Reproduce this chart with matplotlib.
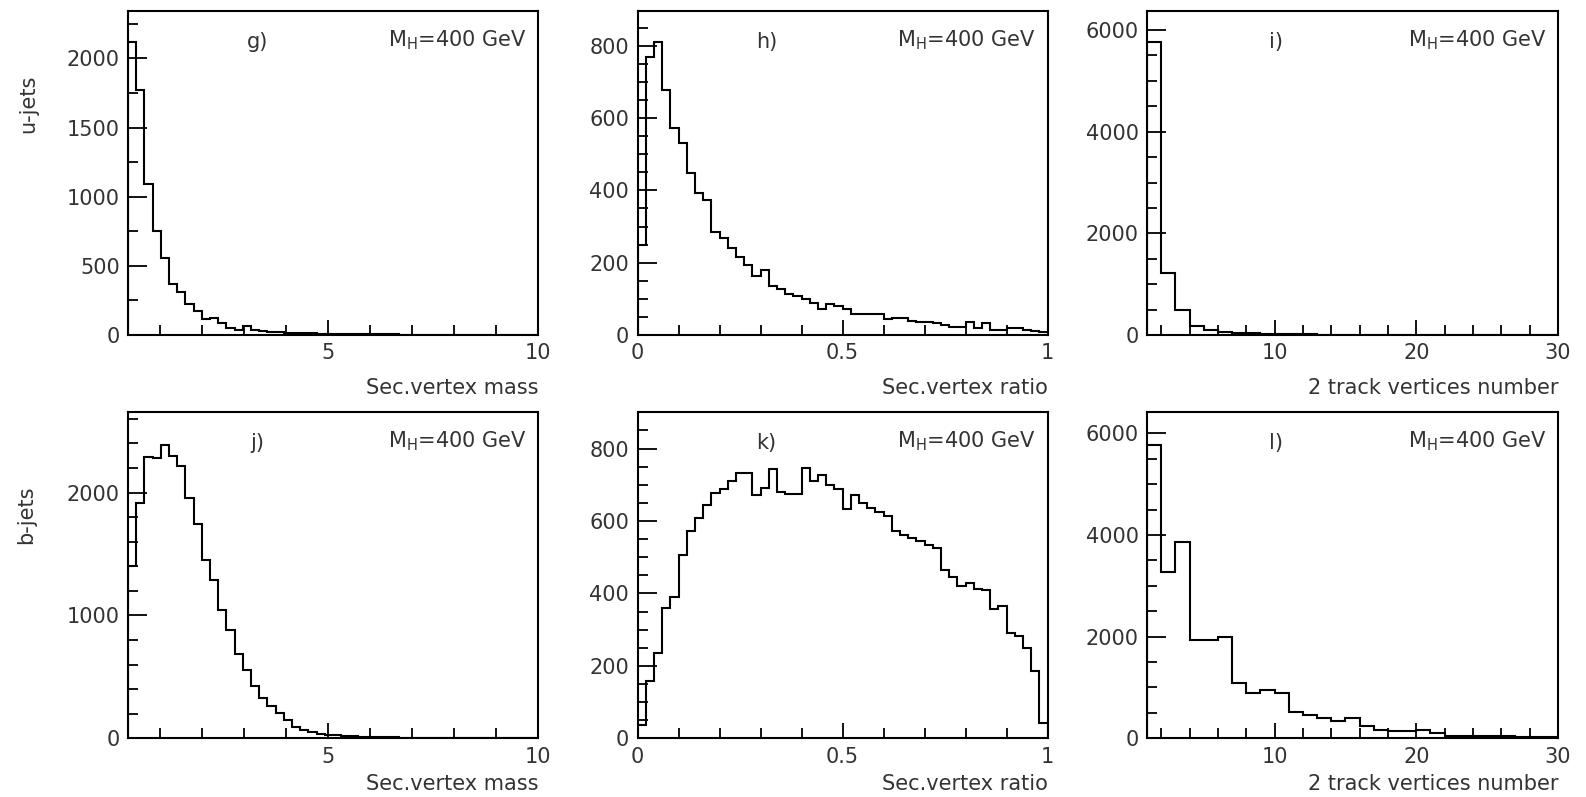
import numpy as np
import matplotlib
matplotlib.use("Agg")
from matplotlib import pyplot as plt
from matplotlib.ticker import MultipleLocator

# conteudo dos bins
mass_u = [2116, 1771, 1092, 752, 554, 366, 308, 224, 176, 113,
          125, 84, 48, 36, 65, 36, 31, 25, 22, 18,
          15, 14, 12, 10, 9, 8, 7, 6, 6, 5,
          5, 4, 4, 3, 3, 3, 2, 2, 2, 2,
          2, 1, 1, 1, 1, 1, 1, 1, 1, 1]
mass_b = [1406, 1919, 2290, 2285, 2388, 2296, 2217, 1955, 1744, 1452,
          1289, 1042, 882, 690, 554, 426, 326, 265, 206, 145,
          95, 64, 50, 37, 30, 24, 20, 16, 13, 11,
          9, 8, 7, 6, 5, 4, 4, 3, 3, 3,
          2, 2, 2, 2, 1, 1, 1, 1, 1, 1]
ratio_u = [249, 768, 811, 677, 573, 530, 447, 394, 373, 284,
           269, 242, 215, 195, 163, 180, 135, 126, 113, 108,
           100, 89, 71, 86, 80, 73, 58, 58, 58, 57,
           44, 47, 48, 40, 37, 37, 34, 28, 22, 21,
           36, 18, 32, 14, 15, 18, 18, 15, 12, 8]
ratio_b = [38, 158, 236, 359, 391, 507, 571, 608, 645, 676,
           687, 710, 733, 733, 673, 692, 743, 679, 674, 674,
           747, 710, 728, 698, 687, 632, 672, 650, 637, 625,
           613, 572, 562, 553, 544, 535, 525, 466, 446, 420,
           429, 411, 409, 357, 364, 291, 283, 249, 187, 41]
ntrk_u = [5757, 1213, 492, 184, 98, 66, 46, 30, 22, 16,
          12, 10, 8, 7, 6, 5, 4, 4, 3, 3,
          2, 2, 2, 2, 1, 1, 1, 1, 1]
ntrk_b = [5770, 3266, 3856, 1934, 1934, 2000, 1095, 898, 951, 898,
          511, 459, 393, 348, 407, 243, 170, 150, 150, 155,
          105, 55, 50, 45, 40, 38, 35, 30, 20]

tags = ["g)", "h)", "i)", "j)", "k)", "l)"]
row_labels = ["u-jets", "b-jets"]
x_titles = ["Sec.vertex mass", "Sec.vertex ratio", "2 track vertices number"]
mass_range = (0.25, 10)
ratio_range = (0, 1)
ntrk_range = (1, 30)

W, H = 1586, 797
fig = plt.figure(figsize=(W / 100, H / 100), dpi=100)
txt_color = "#333333"
fs = 15

# posicoes dos paineis em pixels (esquerda, topo, largura, altura)
lefts = [128, 637.5, 1147]
widths = [410, 410, 411]
tops = [10.7, 412.3]
heights = [324.3, 326]
# centro do titulo do eixo x (pixels abaixo do eixo)
xlab_off = [53, 46]

data = [[mass_u, ratio_u, ntrk_u], [mass_b, ratio_b, ntrk_b]]
ranges = [mass_range, ratio_range, ntrk_range]
nbins = [50, 50, 29]
ymax = [[2345, 897, 6380], [2654, 900, 6413]]
ymajor = [[500, 200, 2000], [1000, 200, 2000]]
yminor = [[250, 50, 500], [200, 50, 500]]
xmajor = [[5, 10], [0, 0.5, 1], [10, 20, 30]]
xlabels = [["5", "10"], ["0", "0.5", "1"], ["10", "20", "30"]]
xminor = [1, 0.1, 2]

for r in range(2):
    for c in range(3):
        ax = fig.add_axes([lefts[c] / W, 1 - (tops[r] + heights[r]) / H,
                           widths[c] / W, heights[r] / H])
        edges = np.linspace(ranges[c][0], ranges[c][1], nbins[c] + 1)
        ax.stairs(data[r][c], edges, color="black", lw=1.5, baseline=0)
        ax.set_xlim(ranges[c])
        ax.set_ylim(0, ymax[r][c])
        ax.set_xticks(xmajor[c], xlabels[c])
        ax.xaxis.set_minor_locator(MultipleLocator(xminor[c]))
        ax.yaxis.set_major_locator(MultipleLocator(ymajor[r][c]))
        ax.yaxis.set_minor_locator(MultipleLocator(yminor[r][c]))
        ax.tick_params(which="both", direction="in", top=False, right=False,
                       width=1.3, colors="black", labelcolor=txt_color,
                       labelsize=fs)
        ax.tick_params(axis="y", which="major", length=14, pad=6)
        ax.tick_params(axis="y", which="minor", length=7)
        ax.tick_params(axis="x", which="major", length=11, pad=6)
        ax.tick_params(axis="x", which="minor", length=7)
        for s in ax.spines.values():
            s.set_linewidth(1.5)
        ax.text(0.315, 0.905, tags[r * 3 + c], transform=ax.transAxes,
                ha="center", va="center", fontsize=fs, color=txt_color)
        ax.text(0.972, 0.91, r"M$_\mathregular{H}$=400 GeV",
                transform=ax.transAxes, ha="right", va="center",
                fontsize=fs, color=txt_color)
        ax.set_xlabel(x_titles[c], fontsize=fs, color=txt_color)
        ax.xaxis.set_label_coords(1.0, -xlab_off[r] / heights[r])
        ax.xaxis.label.set_ha("right")
        ax.xaxis.label.set_va("center")

fig.text(28 / W, 1 - 104 / H, row_labels[0], rotation=90, ha="center",
         va="center", fontsize=fs, color=txt_color)
fig.text(26 / W, 1 - 515 / H, row_labels[1], rotation=90, ha="center",
         va="center", fontsize=fs, color=txt_color)

fig.savefig("out.png", dpi=100)
